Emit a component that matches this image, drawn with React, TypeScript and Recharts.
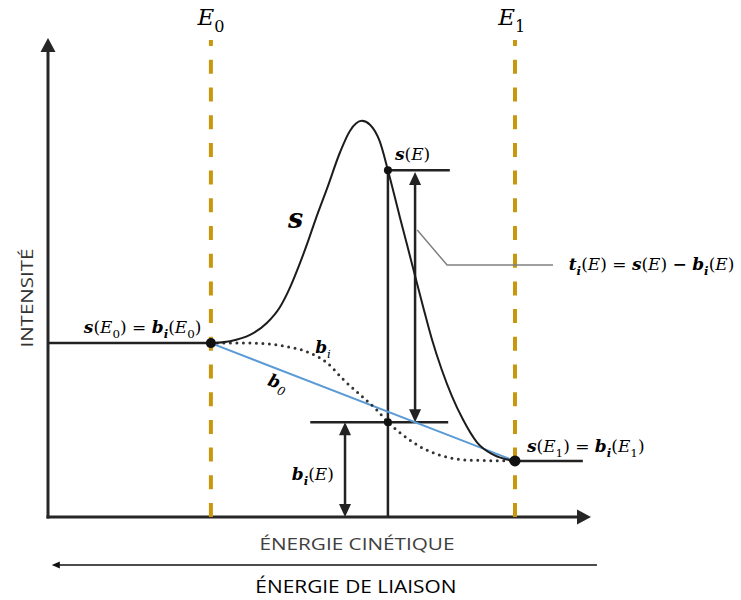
import React from 'react';
import { ComposedChart, Line, XAxis, YAxis, ReferenceLine, ReferenceDot } from 'recharts';

const W = 741;
const H = 600;
const MARGIN = { top: 38, right: 150, bottom: 83, left: 48 };

// positions along the kinetic energy axis (0–100)
const E0 = 30;
const E1 = 86;
const E = 62.6;
const X_TAIL = 98.5;

// intensity levels (0–100)
const S_E0 = 36.3;
const S_E1 = 11.7;
const S_E = 72.4;
const B_E = 19.8;

// measured spectrum s between E0 and E1
const spectrum = [
  { x: 30, y: 36.3 }, { x: 33.5, y: 36.7 }, { x: 37.2, y: 38.0 }, { x: 40.3, y: 40.5 },
  { x: 42.7, y: 43.8 }, { x: 44.6, y: 48.0 }, { x: 46.4, y: 53.0 }, { x: 47.9, y: 57.6 },
  { x: 49.3, y: 62.2 }, { x: 51.4, y: 68.6 }, { x: 53.8, y: 76.2 }, { x: 55.6, y: 80.6 },
  { x: 57.8, y: 82.7 }, { x: 59.3, y: 81.9 }, { x: 61.1, y: 78.4 }, { x: 62.6, y: 72.4 },
  { x: 64.8, y: 62.6 }, { x: 67.0, y: 53.0 }, { x: 69.1, y: 43.8 }, { x: 70.7, y: 37.1 },
  { x: 72.5, y: 30.8 }, { x: 74.4, y: 25.2 }, { x: 76.4, y: 20.4 }, { x: 79.0, y: 15.6 },
  { x: 82.0, y: 13.0 }, { x: 86, y: 11.7 },
];

// iterated background b_i
const shirley = [
  { x: 30, y: 36.3 }, { x: 37.2, y: 36.3 }, { x: 43.3, y: 35.7 }, { x: 48.3, y: 34.2 },
  { x: 51.4, y: 32.2 }, { x: 54.3, y: 28.8 }, { x: 58.0, y: 25.0 }, { x: 60.6, y: 22.3 },
  { x: 62.6, y: 19.8 }, { x: 65.4, y: 17.1 }, { x: 68.5, y: 14.7 }, { x: 72.2, y: 12.9 },
  { x: 77.2, y: 11.9 }, { x: 86, y: 11.7 },
];

// starting background b_0 (straight line)
const linear = [{ x: E0, y: S_E0 }, { x: E1, y: S_E1 }];
const leftFlat = [{ x: 0, y: S_E0 }, { x: E0, y: S_E0 }];
const rightFlat = [{ x: E1, y: S_E1 }, { x: X_TAIL, y: S_E1 }];
const leader = [{ x: 68, y: 59.9 }, { x: 73.5, y: 52.6 }, { x: 93, y: 52.6 }];

type Part = [string, string];

const lblE0: Part[] = [['E', 'i'], ['0', '_r']];
const lblE1: Part[] = [['E', 'i'], ['1', '_r']];
const lblStart: Part[] = [['s', 'b'], ['(', 'r'], ['E', 'i'], ['0', '_r'], [') = ', 'r'], ['b', 'b'], ['i', '_b'], ['(', 'r'], ['E', 'i'], ['0', '_r'], [')', 'r']];
const lblEnd: Part[] = [['s', 'b'], ['(', 'r'], ['E', 'i'], ['1', '_r'], [') = ', 'r'], ['b', 'b'], ['i', '_b'], ['(', 'r'], ['E', 'i'], ['1', '_r'], [')', 'r']];
const lblSE: Part[] = [['s', 'b'], ['(', 'r'], ['E', 'i'], [')', 'r']];
const lblS: Part[] = [['s', 'b']];
const lblBi: Part[] = [['b', 'b'], ['i', '_i']];
const lblB0: Part[] = [['b', 'b'], ['0', '_i']];
const lblBE: Part[] = [['b', 'b'], ['i', '_b'], ['(', 'r'], ['E', 'i'], [')', 'r']];
const lblT: Part[] = [['t', 'b'], ['i', '_b'], ['(', 'r'], ['E', 'i'], [') = ', 'r'], ['s', 'b'], ['(', 'r'], ['E', 'i'], [') ', 'r'], ['−', 'B'], [' ', 'r'], ['b', 'b'], ['i', '_b'], ['(', 'r'], ['E', 'i'], [')', 'r']];

const FACES: Record<string, { fontStyle?: string; fontWeight?: string }> = {
  r: {},
  i: { fontStyle: 'italic' },
  b: { fontStyle: 'italic', fontWeight: 'bold' },
  B: { fontWeight: 'bold' },
};

const GOLD = '#C9970E';
const INK = '#222';

const mathText = (parts: Part[], size: number, anchor = 'start', rotate = 0) => (p: any) => {
  const shift = size * 0.3;
  let low = false;
  return (
    <text
      x={p.cx}
      y={p.cy}
      fontFamily="'DejaVu Serif', serif"
      fontSize={size}
      fill="#000"
      textAnchor={anchor}
      transform={rotate ? `rotate(${rotate} ${p.cx} ${p.cy})` : undefined}
    >
      {parts.map(([txt, face], k) => {
        const isSub = face.startsWith('_');
        const f = FACES[isSub ? face.slice(1) : face];
        let dy = 0;
        if (isSub && !low) dy = shift;
        else if (!isSub && low) dy = -shift;
        low = isSub;
        return (
          <tspan key={k} dy={dy || undefined} fontSize={isSub ? size * 0.7 : undefined} {...f}>
            {txt}
          </tspan>
        );
      })}
    </text>
  );
};

const sansText = (txt: string, size: number, length: number, fill: string, rotate = 0) => (p: any) => (
  <text
    x={p.cx}
    y={p.cy}
    fontFamily="'Open Sans', sans-serif"
    fontSize={size}
    fill={fill}
    textAnchor="middle"
    textLength={length}
    lengthAdjust="spacingAndGlyphs"
    transform={rotate ? `rotate(${rotate} ${p.cx} ${p.cy})` : undefined}
  >
    {txt}
  </text>
);

type ArrowOpts = { color: string; width: number; len: number; half: number; start?: boolean; end?: boolean; cap?: 'butt' | 'square' };

const arrow = (o: ArrowOpts) => (p: any) => {
  const { x1, y1, x2, y2 } = p;
  const d = Math.hypot(x2 - x1, y2 - y1) || 1;
  const ux = (x2 - x1) / d;
  const uy = (y2 - y1) / d;
  const head = (tx: number, ty: number, sx: number, sy: number) => {
    const bx = tx - sx * o.len;
    const by = ty - sy * o.len;
    return `${tx},${ty} ${bx - sy * o.half},${by + sx * o.half} ${bx + sy * o.half},${by - sx * o.half}`;
  };
  const ax = o.start ? x1 + ux * o.len * 0.7 : x1;
  const ay = o.start ? y1 + uy * o.len * 0.7 : y1;
  const bx = o.end ? x2 - ux * o.len * 0.7 : x2;
  const by = o.end ? y2 - uy * o.len * 0.7 : y2;
  return (
    <g>
      <line x1={ax} y1={ay} x2={bx} y2={by} stroke={o.color} strokeWidth={o.width} strokeLinecap={o.cap || 'butt'} />
      {o.end && <polygon points={head(x2, y2, ux, uy)} fill={o.color} />}
      {o.start && <polygon points={head(x1, y1, -ux, -uy)} fill={o.color} />}
    </g>
  );
};

const axisArrow = arrow({ color: '#262626', width: 3, len: 14, half: 7.5, end: true, cap: 'square' });
const doubleArrow = arrow({ color: INK, width: 2.5, len: 13, half: 6, start: true, end: true });
const thinArrow = arrow({ color: '#111', width: 1.5, len: 8, half: 3.5, end: true });

export default function App() {
  return (
    <div style={{ position: 'absolute', left: 0, top: 0, background: '#fff' }}>
      <ComposedChart width={W} height={H} margin={MARGIN}>
        <XAxis dataKey="x" type="number" domain={[0, 100]} hide />
        <YAxis type="number" domain={[0, 100]} hide />

        {/* axes */}
        <ReferenceLine segment={[{ x: 0, y: 0 }, { x: 0, y: 100 }]} shape={axisArrow} />
        <ReferenceLine segment={[{ x: 0, y: 0 }, { x: 100, y: 0 }]} shape={axisArrow} />
        <ReferenceLine
          segment={[{ x: 101.1, y: -10 }, { x: 0.7, y: -10 }]}
          ifOverflow="visible"
          shape={thinArrow}
        />

        {/* integration limits */}
        <ReferenceLine segment={[{ x: E0, y: 0 }, { x: E0, y: 99.6 }]} stroke={GOLD} strokeWidth={4} strokeDasharray="14 13.7" />
        <ReferenceLine segment={[{ x: E1, y: 0 }, { x: E1, y: 99.6 }]} stroke={GOLD} strokeWidth={4} strokeDasharray="14 13.7" />

        {/* construction lines at energy E */}
        <ReferenceLine segment={[{ x: E, y: 0 }, { x: E, y: S_E }]} stroke={INK} strokeWidth={2.5} />
        <ReferenceLine segment={[{ x: E, y: S_E }, { x: 74.0, y: S_E }]} stroke={INK} strokeWidth={2.5} />
        <ReferenceLine segment={[{ x: 48.3, y: B_E }, { x: 73.7, y: B_E }]} stroke={INK} strokeWidth={2.5} />
        <ReferenceLine segment={[{ x: 67.6, y: B_E }, { x: 67.6, y: S_E - 0.4 }]} shape={doubleArrow} />
        <ReferenceLine segment={[{ x: 54.7, y: 0 }, { x: 54.7, y: B_E }]} shape={doubleArrow} />

        <Line data={leftFlat} dataKey="y" type="linear" stroke={INK} strokeWidth={2.5} dot={false} isAnimationActive={false} />
        <Line data={rightFlat} dataKey="y" type="linear" stroke={INK} strokeWidth={2.5} dot={false} isAnimationActive={false} />
        <Line data={leader} dataKey="y" type="linear" stroke="#808080" strokeWidth={1.5} dot={false} isAnimationActive={false} />
        <Line data={linear} dataKey="y" type="linear" stroke="#5B9BD5" strokeWidth={2} dot={false} isAnimationActive={false} />
        <Line
          data={shirley}
          dataKey="y"
          type="monotone"
          stroke="#333"
          strokeWidth={3}
          strokeDasharray="0 6.5"
          strokeLinecap="round"
          dot={false}
          isAnimationActive={false}
        />
        <Line data={spectrum} dataKey="y" type="monotone" stroke="#1c1c1c" strokeWidth={2} dot={false} isAnimationActive={false} />

        <ReferenceDot x={E0} y={S_E0} r={5} fill="#111" stroke="none" />
        <ReferenceDot x={E1} y={S_E1} r={5.5} fill="#111" stroke="none" />
        <ReferenceDot x={E} y={S_E} r={4} fill="#111" stroke="none" />
        <ReferenceDot x={E} y={B_E} r={4} fill="#111" stroke="none" />

        {/* annotations */}
        <ReferenceDot x={E0} y={102.7} r={0} ifOverflow="visible" shape={mathText(lblE0, 23, 'middle')} />
        <ReferenceDot x={E1 - 0.6} y={102.7} r={0} ifOverflow="visible" shape={mathText(lblE1, 23, 'middle')} />
        <ReferenceDot x={6.6} y={38.4} r={0} ifOverflow="visible" shape={mathText(lblStart, 17)} />
        <ReferenceDot x={63.9} y={74.5} r={0} ifOverflow="visible" shape={mathText(lblSE, 17)} />
        <ReferenceDot x={44.2} y={60.3} r={0} ifOverflow="visible" shape={mathText(lblS, 27)} />
        <ReferenceDot x={49.2} y={34.2} r={0} ifOverflow="visible" shape={mathText(lblBi, 17)} />
        <ReferenceDot x={40.3} y={27.6} r={0} ifOverflow="visible" shape={mathText(lblB0, 17, 'start', 20)} />
        <ReferenceDot x={44.9} y={7.7} r={0} ifOverflow="visible" shape={mathText(lblBE, 17)} />
        <ReferenceDot x={88.2} y={13.6} r={0} ifOverflow="visible" shape={mathText(lblEnd, 17)} />
        <ReferenceDot x={95.9} y={51.6} r={0} ifOverflow="visible" shape={mathText(lblT, 17)} />

        <ReferenceDot x={-2.8} y={45.7} r={0} ifOverflow="visible" shape={sansText('INTENSITÉ', 17, 99, '#333', -90)} />
        <ReferenceDot x={56.9} y={-6.9} r={0} ifOverflow="visible" shape={sansText('ÉNERGIE CINÉTIQUE', 17, 195, '#404040')} />
        <ReferenceDot x={56.7} y={-15.9} r={0} ifOverflow="visible" shape={sansText('ÉNERGIE DE LIAISON', 18.5, 201, '#000')} />
      </ComposedChart>
    </div>
  );
}
